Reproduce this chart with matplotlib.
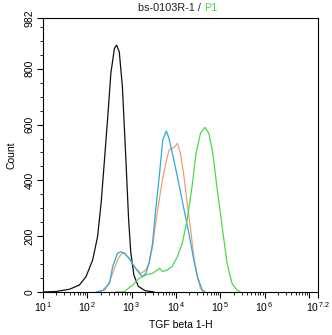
import matplotlib
matplotlib.use("Agg")
import matplotlib.pyplot as plt
from matplotlib.ticker import FixedLocator, NullFormatter, FuncFormatter
import numpy as np

# Histogram traces: log10(fluorescence) vs event count
black_logx = [1.0, 1.3, 1.6, 1.82, 1.97, 2.12, 2.23, 2.31, 2.38, 2.46, 2.53, 2.61, 2.66, 2.72, 2.79, 2.87, 2.93, 2.98, 3.05, 3.15, 3.3, 3.5]
black_cnt = [0, 2, 10, 25, 55, 115, 198, 318, 461, 628, 784, 873, 885, 860, 736, 470, 260, 140, 60, 20, 5, 0]

blue_logx = [2.2, 2.35, 2.50, 2.57, 2.68, 2.76, 2.83, 2.94, 3.06, 3.17, 3.24, 3.32, 3.39, 3.47, 3.54, 3.62, 3.70, 3.78, 3.84, 3.95, 4.06, 4.18, 4.29, 4.40, 4.48, 4.59, 4.65]
blue_cnt = [0, 6, 31, 91, 139, 144, 139, 121, 91, 67, 55, 67, 103, 175, 294, 413, 545, 577, 551, 473, 390, 294, 210, 115, 55, 7, 0]

orange_logx = [2.25, 2.40, 2.50, 2.57, 2.68, 2.76, 2.83, 2.94, 3.09, 3.21, 3.32, 3.39, 3.47, 3.54, 3.62, 3.69, 3.77, 3.84, 3.91, 3.97, 4.03, 4.10, 4.18, 4.25, 4.33, 4.40, 4.48, 4.55, 4.62]
orange_cnt = [0, 8, 37, 67, 115, 135, 141, 121, 85, 67, 79, 103, 162, 246, 330, 401, 461, 509, 515, 520, 533, 497, 413, 318, 222, 127, 55, 13, 0]

green_logx = [2.63, 2.83, 3.02, 3.17, 3.32, 3.47, 3.58, 3.63, 3.69, 3.80, 3.91, 4.03, 4.14, 4.25, 4.36, 4.45, 4.55, 4.65, 4.74, 4.83, 4.92, 5.04, 5.15, 5.26, 5.37, 5.45]
green_cnt = [0, 1, 25, 49, 61, 67, 79, 85, 73, 79, 91, 127, 175, 258, 377, 497, 569, 590, 569, 497, 377, 234, 103, 31, 7, 0]

y_ticks = [0, 200, 400, 600, 800, 982]
x_decades = [1, 2, 3, 4, 5, 6, 7, 7.2]
x_labelled = [1, 2, 3, 4, 5, 6, 7.2]

plt.rcParams['font.family'] = ['Liberation Sans', 'DejaVu Sans']

fig = plt.figure(figsize=(3.32, 3.35), dpi=100)
ax = fig.add_axes([43 / 332, 1 - 292 / 335, 275 / 332, 274 / 335])

traces = [
    (black_logx, black_cnt, "#111111"),
    (orange_logx, orange_cnt, "#F0A070"),
    (blue_logx, blue_cnt, "#30A8D8"),
    (green_logx, green_cnt, "#4CD84C"),
]
for lx, cnt, col in traces:
    ax.plot(10 ** np.asarray(lx), cnt, color=col, lw=0.9, solid_joinstyle="round")

ax.set_xscale("log")
ax.set_xlim(10 ** 1, 10 ** 7.2)
ax.set_ylim(0, 982)

ax.xaxis.set_major_locator(FixedLocator([10 ** d for d in x_decades]))
minor = [m * 10 ** d for d in range(1, 8) for m in range(2, 10) if m * 10 ** d < 10 ** 7.2]
ax.xaxis.set_minor_locator(FixedLocator(minor))
ax.xaxis.set_minor_formatter(NullFormatter())


def fmt_x(v, pos):
    e = np.log10(v)
    if not any(abs(e - d) < 1e-6 for d in x_labelled):
        return ""
    s = f"{e:.1f}" if abs(e - round(e)) > 1e-6 else f"{int(round(e))}"
    return r"$\mathregular{10^{\,%s}}$" % s


ax.xaxis.set_major_formatter(FuncFormatter(fmt_x))

ax.yaxis.set_major_locator(FixedLocator(y_ticks))
ax.yaxis.set_minor_locator(FixedLocator(list(range(50, 982, 50))))
ax.yaxis.set_minor_formatter(NullFormatter())
ax.set_yticklabels([str(t) for t in y_ticks], rotation=90, va="center")

ax.tick_params(axis="both", which="major", length=4, width=0.8, labelsize=7.5, pad=2)
ax.tick_params(axis="both", which="minor", length=2.5, width=0.6)
for sp in ax.spines.values():
    sp.set_linewidth(0.8)

ax.set_xlabel("TGF beta 1-H", fontsize=7.5, labelpad=4)
ax.set_ylabel("Count", fontsize=7.5, labelpad=6)

# Two-colour title
fig.text(0.615, 0.975, "bs-0103R-1 / ", fontsize=7.8, ha="right", va="center", color="#222222")
fig.text(0.615, 0.975, "P1", fontsize=7.8, ha="left", va="center", color="#4CD84C")

fig.savefig("out.png", dpi=100)
